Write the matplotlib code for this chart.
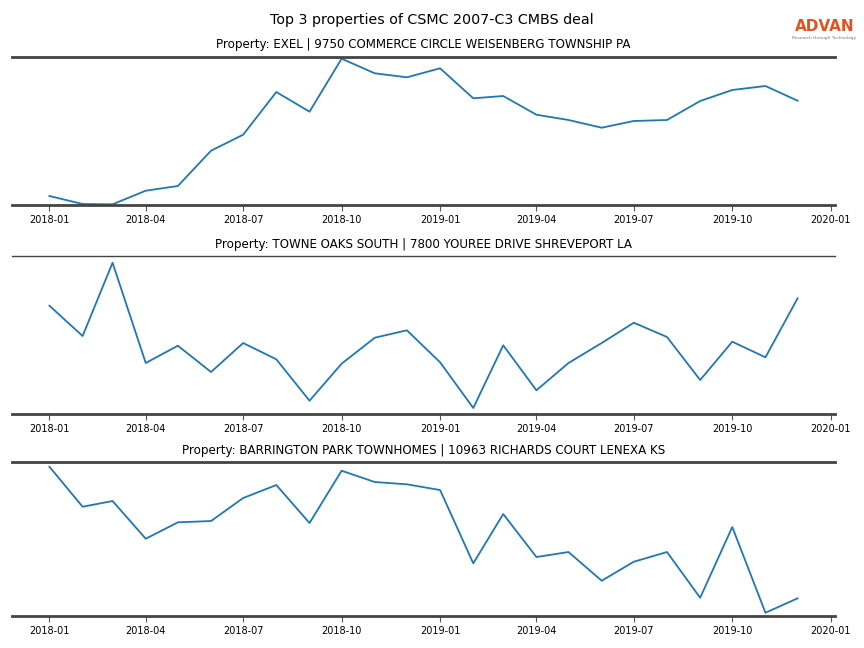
import matplotlib
matplotlib.use("Agg")
import matplotlib.pyplot as plt
import matplotlib.dates as mdates
import pandas as pd

# mois couverts par les trois séries
months = pd.date_range("2018-01-01", periods=24, freq="MS")

titles = [
    "Property: EXEL | 9750 COMMERCE CIRCLE WEISENBERG TOWNSHIP PA",
    "Property: TOWNE OAKS SOUTH | 7800 YOUREE DRIVE SHREVEPORT LA",
    "Property: BARRINGTON PARK TOWNHOMES | 10963 RICHARDS COURT LENEXA KS",
]

# valeurs (unités relatives, pas d'axe y)
exel = [8.7, 0.7, 0.4, 14, 18.7, 54, 70, 112.7, 93, 146, 131.4, 127.4,
        136.4, 106.4, 108.7, 90, 84.7, 77, 83.7, 84.7, 103.7, 114.7, 118.7, 104]
towne = [108, 77.7, 151, 50.7, 68, 41.7, 70.7, 54.4, 13, 50, 76, 83.4,
         51.4, 5.7, 68.4, 23.4, 50.7, 70.7, 91, 76.7, 33.7, 72, 56.4, 115.4]
barrington = [149, 109, 114.7, 77, 93.4, 94.7, 117.7, 130.7, 92.7, 145, 133.7, 131.4,
              125.7, 52.4, 101.7, 58.7, 63.7, 35, 54, 63.7, 18, 88.7, 3, 17.4]

series = [exel, towne, barrington]
ylims = [(0, 148), (0, 157.7), (0, 153.7)]
top_lw = [2, 1, 2]

# positions des axes (fraction de la figure)
boxes = [
    [0.0139, 0.6841, 0.9525, 0.2284],
    [0.0139, 0.3616, 0.9525, 0.2433],
    [0.0139, 0.0498, 0.9525, 0.2372],
]

fig = plt.figure(figsize=(8.64, 6.48), dpi=100)

for i in range(3):
    ax = fig.add_axes(boxes[i])
    ax.plot(months, series[i], color="tab:blue", lw=1.3)
    ax.set_ylim(*ylims[i])
    ax.set_yticks([])
    ax.set_title(titles[i], fontsize=8.6)
    ax.spines["left"].set_visible(False)
    ax.spines["right"].set_visible(False)
    ax.spines["top"].set_color("#444444")
    ax.spines["bottom"].set_color("#444444")
    ax.spines["top"].set_linewidth(top_lw[i])
    ax.spines["bottom"].set_linewidth(2)
    ax.xaxis.set_major_locator(mdates.MonthLocator(bymonth=[1, 4, 7, 10]))
    ax.xaxis.set_major_formatter(mdates.DateFormatter("%Y-%m"))
    ax.tick_params(axis="x", labelsize=7, length=4, color="#555555")

fig.suptitle("Top 3 properties of CSMC 2007-C3 CMBS deal", fontsize=10.3, y=0.98)

# logo
fig.text(0.9543, 0.959, "ADVAN", color="#e2521f", fontsize=11, fontweight="bold",
         ha="center", va="center")
fig.text(0.9543, 0.942, "Research through Technology", color="#777777",
         fontsize=3.2, ha="center", va="center")

fig.savefig("out.png", dpi=100)
